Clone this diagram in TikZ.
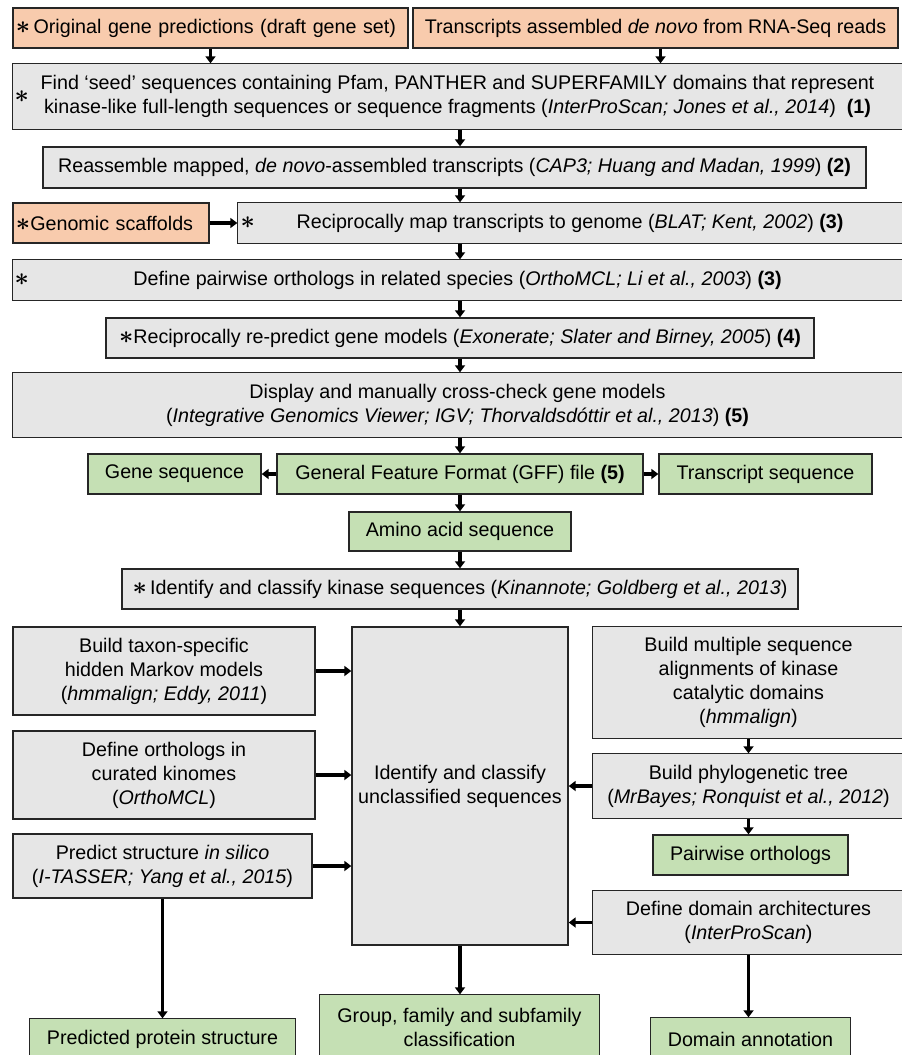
\documentclass[tikz,border=0pt]{standalone}
\usepackage{fontspec}
\setmainfont{Liberation Sans}
\usetikzlibrary{arrows.meta}
\definecolor{orangefill}{HTML}{F8CBAD}
\definecolor{greenfill}{HTML}{C5E0B4}
\definecolor{grayfill}{HTML}{E6E6E6}
\definecolor{edgecol}{HTML}{262626}
\newcommand\bx[7]{\node[#1, minimum width={(#5)-(#3)}, minimum height={(#6)-(#4)}] (#2) at ({((#3)+(#5))/2},{((#4)+(#6))/2}) {#7};}
% box whose right side runs off the page
\newcommand\bxr[7]{\bx{#1,draw=none}{#2}{#3}{#4}{#5}{#6}{#7}\draw[edgeline] ([xshift=3pt]#2.north east) -- (#2.north west) -- (#2.south west) -- ([xshift=3pt]#2.south east);}
% box whose bottom side runs off the page
\newcommand\bxb[7]{\bx{#1,draw=none}{#2}{#3}{#4}{#5}{#6}{#7}\draw[edgeline] ([yshift=-8pt]#2.south west) -- (#2.north west) -- (#2.north east) -- ([yshift=-8pt]#2.south east);}
\newcommand\bigast{{\fontsize{30}{30}\selectfont\boldmath$\ast$}}
\begin{document}
\begin{tikzpicture}[x=1pt,y=-1pt,
  edgeline/.style={draw=edgecol, line width=1.4pt, line join=miter},
  box/.style={draw=edgecol, line width=1.4pt, inner sep=0pt, align=center, font=\fontsize{19.7}{24}\selectfont},
  gbox/.style={box, fill=grayfill},
  obox/.style={box, fill=orangefill},
  grbox/.style={box, fill=greenfill},
  star/.style={inner sep=0pt, font=\fontsize{19.7}{24}\selectfont},
  arr/.style={line width=3.2pt, draw=black, -{Triangle[length=7pt,width=10pt]}}]
\useasboundingbox (0,0) rectangle (902,1055);
\clip (0,0) rectangle (902,1055);
\coordinate (col) at (460,0);
% top row
\node[obox, minimum height=40, text width=389pt, inner xsep=3pt, align=left] (A) at (210.5,28) {\bigast\,Original gene predictions (draft gene set)};
\bx{obox}{B}{413}{8}{898}{48}{Transcripts assembled \textit{de novo} from RNA-Seq reads}
\bxr{gbox}{b1}{13}{64}{902}{129}{Find ‘seed’ sequences containing Pfam, PANTHER and SUPERFAMILY domains that represent\\kinase-like full-length sequences or sequence fragments (\textit{InterProScan; Jones et al., 2014})\ \ \textbf{(1)}}
\node[star, anchor=west] (s1) at ([xshift=2pt]b1.west) {\bigast};
\bx{gbox}{b2}{43}{147}{866}{188}{Reassemble mapped, \textit{de novo}-assembled transcripts (\textit{CAP3; Huang and Madan, 1999}) \textbf{(2)}}
\node[obox, minimum height=40, text width=190pt, inner xsep=3pt, align=left] (gs) at (111,223) {\bigast Genomic scaffolds};
\bxr{gbox}{b3}{238}{203}{902}{243}{Reciprocally map transcripts to genome (\textit{BLAT; Kent, 2002}) \textbf{(3)}}
\node[star, anchor=west] (s3) at ([xshift=3pt]b3.west) {\bigast};
\bxr{gbox}{b4}{13}{260}{902}{300}{Define pairwise orthologs in related species (\textit{OrthoMCL; Li et al., 2003}) \textbf{(3)}}
\node[star, anchor=west] (s4) at ([xshift=2pt]b4.west) {\bigast};
\bx{gbox}{b5}{106}{318}{814}{358}{\bigast Reciprocally re-predict gene models (\textit{Exonerate; Slater and Birney, 2005}) \textbf{(4)}}
\bxr{gbox}{b6}{13}{373}{902}{437}{Display and manually cross-check gene models\\(\textit{Integrative Genomics Viewer; IGV; Thorvaldsdóttir et al., 2013}) \textbf{(5)}}
\bx{grbox}{gene}{88}{454}{261}{494}{Gene sequence}
\bx{grbox}{gff}{277}{454}{643}{494}{General Feature Format (GFF) file \textbf{(5)}}
\bx{grbox}{trans}{659}{454}{872}{494}{Transcript sequence}
\bx{grbox}{amino}{349}{512}{571}{551}{Amino acid sequence}
\bx{gbox}{ident}{122}{569}{798}{609}{\bigast\,Identify and classify kinase sequences (\textit{Kinannote; Goldberg et al., 2013})}
% lower part
\bx{gbox}{taxon}{13}{627}{315}{715}{Build taxon-specific\\hidden Markov models\\(\textit{hmmalign; Eddy, 2011})}
\bx{gbox}{orth}{13}{731}{315}{819}{Define orthologs in\\curated kinomes\\(\textit{OrthoMCL})}
\bx{gbox}{pred}{13}{834}{312}{898}{Predict structure \textit{in silico}\\(\textit{I-TASSER; Yang et al., 2015})}
\bx{gbox}{central}{352}{627}{568}{945}{Identify and classify\\unclassified sequences}
\bxr{gbox}{multi}{593}{627}{904}{738}{Build multiple sequence\\alignments of kinase\\catalytic domains\\(\textit{hmmalign})}
\bxr{gbox}{phylo}{593}{754}{904}{818}{Build phylogenetic tree\\(\textit{MrBayes; Ronquist et al., 2012})}
\bx{grbox}{pair}{653}{835}{848}{875}{Pairwise orthologs}
\bxr{gbox}{dom}{593}{891}{904}{954}{Define domain architectures\\(\textit{InterProScan})}
\bxb{grbox}{ann}{651}{1018}{850}{1060}{Domain annotation}
\bxb{grbox}{group}{320}{995}{599}{1060}{Group, family and subfamily\\classification}
\bxb{grbox}{pps}{30}{1019}{295}{1060}{Predicted protein structure}
% arrows
\draw[arr] (A.south) -- (A.south |- b1.north);
\draw[arr] ([xshift=5pt]B.south) -- ([xshift=5pt]B.south |- b1.north);
\draw[arr] (b1.south -| col) -- (b2.north -| col);
\draw[arr] (b2.south -| col) -- (b3.north -| col);
\draw[arr] (gs.east) -- (b3.west);
\draw[arr] (b3.south -| col) -- (b4.north -| col);
\draw[arr] (b4.south -| col) -- (b5.north -| col);
\draw[arr] (b5.south -| col) -- (b6.north -| col);
\draw[arr] (b6.south -| col) -- (gff.north -| col);
\draw[arr] (gff.west) -- (gene.east);
\draw[arr] (gff.east) -- (trans.west);
\draw[arr] (gff.south -| col) -- (amino.north -| col);
\draw[arr] (amino.south -| col) -- (ident.north -| col);
\draw[arr] (ident.south -| col) -- (central.north -| col);
\draw[arr] (taxon.east) -- (taxon.east -| central.west);
\draw[arr] (orth.east) -- (orth.east -| central.west);
\draw[arr] (pred.east) -- (pred.east -| central.west);
\draw[arr] (multi.south) -- (phylo.north);
\draw[arr] (phylo.west) -- (phylo.west -| central.east);
\draw[arr] (phylo.south) -- (phylo.south |- pair.north);
\draw[arr] (dom.west) -- (dom.west -| central.east);
\draw[arr] (dom.south) -- (dom.south |- ann.north);
\draw[arr] (central.south -| col) -- (group.north -| col);
\draw[arr] (pred.south) -- (pred.south |- pps.north);
\end{tikzpicture}
\end{document}
